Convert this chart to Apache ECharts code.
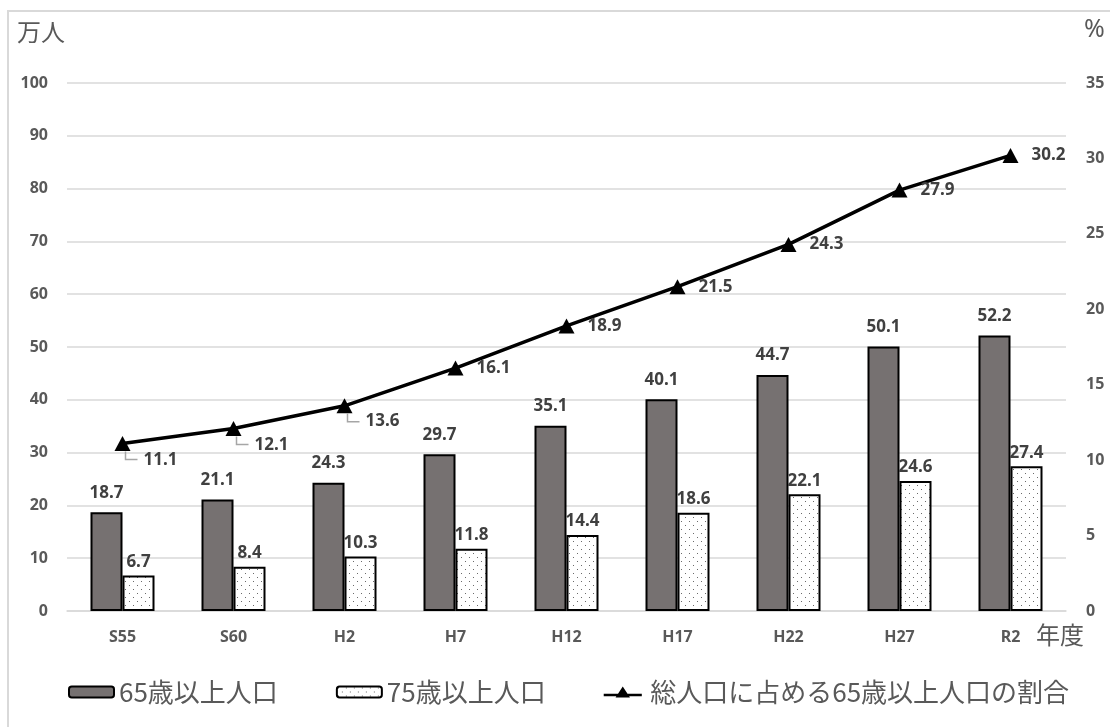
<!DOCTYPE html>
<html>
<head>
<meta charset="utf-8">
<script src="https://cdn.jsdelivr.net/npm/echarts@6/dist/echarts.min.js"></script>
<style>
  html, body { margin: 0; padding: 0; background: #fff; }
  #chart { width: 1110px; height: 727px; }
</style>
</head>
<body>
<div id="chart"></div>
<script>
// 年度ごとの高齢者人口（万人）と総人口に占める65歳以上人口の割合（%）
const categories = ['S55', 'S60', 'H2', 'H7', 'H12', 'H17', 'H22', 'H27', 'R2'];
const pop65 = [18.7, 21.1, 24.3, 29.7, 35.1, 40.1, 44.7, 50.1, 52.2];
const pop75 = [6.7, 8.4, 10.3, 11.8, 14.4, 18.6, 22.1, 24.6, 27.4];
const ratio65 = [11.1, 12.1, 13.6, 16.1, 18.9, 21.5, 24.3, 27.9, 30.2];
const leftTicks = { min: 0, max: 100, interval: 10 };
const rightTicks = { min: 0, max: 35, interval: 5 };
// 折れ線の値ラベルのうち、引き出し線付きで右下に置くもの
const guidedLabels = { 0: 17, 1: 17, 2: 15 };

const TEXT = '#595959';
const LABEL = '#404040';
const FONT = "'Noto Sans', 'Noto Sans CJK JP', sans-serif";
const JP = "'Noto Sans CJK JP', 'Noto Sans', sans-serif";

// 75歳以上人口の棒に使う点描パターン
function dotPattern() {
  const c = document.createElement('canvas');
  c.width = 8; c.height = 8;
  const g = c.getContext('2d');
  g.fillStyle = '#ffffff';
  g.fillRect(0, 0, 8, 8);
  g.fillStyle = '#6a6a6a';
  g.fillRect(1, 1, 1, 1);
  g.fillRect(5, 5, 1, 1);
  return c;
}
const dots = { image: dotPattern(), repeat: 'repeat' };

// 凡例用：線の中央に三角マーカーを置いたアイコン
const lineWithTriangle =
  'path://M0,8.5L45,8.5L45,11.5L0,11.5Z M22.5,0L31,13L14,13Z';

const chart = echarts.init(document.getElementById('chart'), null, { renderer: 'canvas' });

const ratioData = ratio65.map((v, i) => {
  if (guidedLabels[i] !== undefined) {
    return { value: v, label: { offset: [0, guidedLabels[i]] } };
  }
  return v;
});

const option = {
  animation: false,
  backgroundColor: '#ffffff',
  textStyle: { fontFamily: FONT },
  grid: { left: 67, right: 44, top: 83, bottom: 116 },
  legend: {
    left: 63,
    top: 674,
    itemWidth: 45,
    itemHeight: 11,
    itemGap: 58,
    textStyle: { color: TEXT, fontSize: 26, fontFamily: JP },
    data: [
      { name: '65歳以上人口' },
      { name: '75歳以上人口' },
      { name: '総人口に占める65歳以上人口の割合', icon: lineWithTriangle }
    ]
  },
  xAxis: {
    type: 'category',
    data: categories,
    axisLine: { show: true, lineStyle: { color: '#d9d9d9', width: 1.5 } },
    axisTick: { show: false },
    axisLabel: { color: TEXT, fontSize: 16, fontWeight: 'bold', margin: 18 }
  },
  yAxis: [
    {
      type: 'value',
      min: leftTicks.min, max: leftTicks.max, interval: leftTicks.interval,
      axisLine: { show: false },
      axisTick: { show: false },
      splitLine: { lineStyle: { color: '#d9d9d9', width: 1.5 } },
      axisLabel: { color: TEXT, fontSize: 16, fontWeight: 'bold', margin: 19 }
    },
    {
      type: 'value',
      min: rightTicks.min, max: rightTicks.max, interval: rightTicks.interval,
      axisLine: { show: false },
      axisTick: { show: false },
      splitLine: { show: false },
      axisLabel: { color: TEXT, fontSize: 16, fontWeight: 'bold', margin: 20 }
    }
  ],
  series: [
    {
      name: '65歳以上人口',
      type: 'bar',
      data: pop65,
      barWidth: 32,
      barGap: '0%',
      itemStyle: { color: '#767171', borderColor: '#000', borderWidth: 2 },
      label: {
        show: true, position: 'top', distance: 11,
        color: LABEL, fontSize: 17, fontWeight: 'bold',
        formatter: p => p.value.toFixed(1)
      }
    },
    {
      name: '75歳以上人口',
      type: 'bar',
      data: pop75,
      barWidth: 32,
      itemStyle: { color: dots, borderColor: '#000', borderWidth: 2 },
      label: {
        show: true, position: 'top', distance: 5,
        color: LABEL, fontSize: 17, fontWeight: 'bold',
        formatter: p => p.value.toFixed(1)
      }
    },
    {
      name: '総人口に占める65歳以上人口の割合',
      type: 'line',
      yAxisIndex: 1,
      data: ratioData,
      symbol: 'triangle',
      symbolSize: [16, 15],
      lineStyle: { color: '#000', width: 3.5 },
      itemStyle: { color: '#000' },
      z: 5,
      label: {
        show: true, position: 'right', distance: 13,
        color: LABEL, fontSize: 17, fontWeight: 'bold',
        formatter: p => (typeof p.value === 'number' ? p.value : p.data.value).toFixed(1)
      }
    }
  ],
  graphic: [
    {
      type: 'rect', silent: true, z: 0,
      shape: { x: 8, y: 11, width: 1300, height: 900 },
      style: { fill: null, stroke: '#d9d9d9', lineWidth: 2 }
    },
    {
      type: 'text', left: 17, top: 20, z: 10,
      style: { text: '万人', fill: TEXT, fontSize: 24, fontFamily: JP }
    },
    {
      type: 'text', left: 1084, top: 17, z: 10,
      style: { text: '%', fill: TEXT, fontSize: 25, fontFamily: FONT }
    },
    {
      type: 'text', left: 1036, top: 623, z: 10,
      style: { text: '年度', fill: TEXT, fontSize: 24, fontFamily: JP }
    }
  ]
};

chart.setOption(option);

// 右下に置いたラベルへの引き出し線（点の画素位置から求める）
const guides = Object.keys(guidedLabels).map(k => {
  const i = Number(k);
  const [px, py] = chart.convertToPixel({ seriesIndex: 2 }, [i, ratio65[i]]);
  return {
    type: 'polyline', silent: true, z: 4,
    shape: { points: [[px + 3, py + 8], [px + 3, py + 16], [px + 15, py + 16]] },
    style: { stroke: '#a6a6a6', lineWidth: 1.5, fill: null }
  };
});
chart.setOption({ graphic: option.graphic.concat(guides) });
</script>
</body>
</html>
